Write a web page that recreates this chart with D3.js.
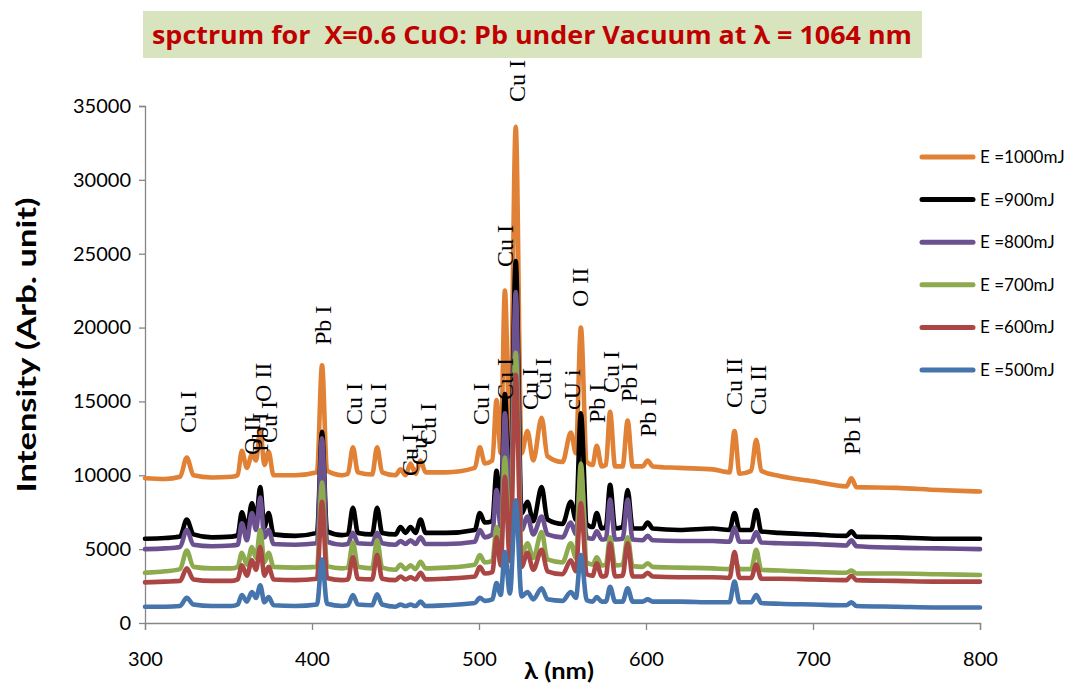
<!DOCTYPE html>
<html><head><meta charset="utf-8">
<script src="https://cdn.jsdelivr.net/npm/d3@7"></script>
<style>body{margin:0;background:#fff} svg{display:block}</style>
</head><body><svg id="c" width="1076" height="686"></svg>
<script>
// ---------- DATA ----------
const wavelength = [300,312,321,325,329,340,352,355.5,358,361,364,366.5,369,371.5,374,377,390,403,406,409,418,421.5,424.5,427.5,436,439,442,450,453,456,459,462,465,468,480,497.5,500.5,503.5,508,510.5,513,515.5,518.5,522,525.5,529,532.5,537.5,541,550,555,558,561,564.5,568,570.5,573.5,576,578.5,581.5,586,589,592,598,601,604,620,640,650,653,656,663,666,669,680,700,720,723,726,750,775,800];

const e1000 = [9800,9750,9900,11200,10000,9850,9900,10000,11650,10500,11400,11000,13100,10700,11600,10000,10000,10200,17450,10300,10000,10100,11900,10200,10050,11900,10200,10000,10400,10000,10800,10100,11000,10200,10200,10500,11900,10800,11000,15100,11500,22500,12000,33600,11500,13000,11000,13900,11300,10900,12900,11500,20000,10900,10700,12000,10600,10700,14300,10600,10600,13700,10600,10600,11000,10600,10500,10400,10200,13000,10100,10300,12400,10300,9950,9600,9250,9800,9200,9150,9000,8900];
const e900 = [5700,5750,5850,7000,6000,5800,5850,5950,7500,6400,8100,7000,9200,6500,7450,6000,5900,6100,12950,6200,5950,6000,7800,6100,6000,7800,6100,6000,6500,6100,6500,6100,7000,6100,6100,6300,7450,6800,6900,10300,7500,15500,8000,24500,7400,8200,6900,9200,7000,6700,8200,7000,14200,6700,6500,7450,6400,6500,9350,6400,6500,9000,6400,6400,6800,6400,6300,6400,6300,7450,6300,6300,7650,6200,6100,6000,5900,6200,5850,5800,5700,5700];
const e800 = [5000,5050,5150,6300,5300,5200,5250,5300,6750,5600,7450,6300,8500,5800,6300,5350,5300,5400,12500,5500,5300,5350,6100,5400,5350,6100,5400,5300,5550,5350,5600,5350,5800,5350,5350,5500,6300,5800,6000,9000,6500,14200,7000,22400,6300,7200,6000,7200,6000,5800,6800,6000,10000,5800,5700,6200,5650,5700,8350,5650,5700,8350,5650,5600,5900,5600,5550,5550,5500,6450,5500,5500,6150,5450,5400,5350,5250,5600,5200,5100,5050,5000];
const e700 = [3400,3500,3650,4900,3800,3700,3700,3800,4750,3950,5150,4400,6300,4100,4750,3800,3750,3800,9500,3850,3700,3750,5450,3800,3700,5600,3750,3600,3950,3650,3900,3650,4150,3700,3750,3950,4600,4100,4200,6500,4700,11200,5000,18300,4600,5400,4400,6150,4300,4100,5400,4400,10800,4100,3950,4450,3900,3950,5800,3900,3950,5800,3850,3800,4050,3800,3750,3700,3650,4300,3650,3650,4950,3600,3550,3450,3400,3550,3350,3350,3300,3250];
const e600 = [2750,2800,2850,3700,2950,2850,2850,2950,3900,3200,4250,3600,5150,3200,3800,2950,2900,3000,8200,3050,2900,2950,4450,3000,2950,4600,3000,2900,3150,2950,3100,2950,3400,2950,3000,3150,3800,3350,3450,5800,3900,9900,4200,16800,3800,4750,3600,4950,3500,3300,4250,3500,8100,3300,3200,4050,3150,3200,5400,3150,3200,5400,3150,3150,3400,3150,3100,3100,3050,4800,3050,3050,3950,3000,3000,2950,2900,3200,2900,2850,2800,2800];
const e500 = [1100,1100,1150,1700,1250,1150,1150,1250,1900,1450,2100,1700,2550,1400,1750,1200,1150,1250,4300,1300,1150,1200,1900,1250,1200,1950,1250,1100,1250,1150,1250,1150,1450,1150,1200,1350,1700,1500,1600,2700,1900,4800,2000,8300,1800,2100,1600,2350,1600,1500,2100,1700,4600,1550,1450,1750,1450,1450,2450,1450,1450,2350,1450,1450,1600,1450,1450,1400,1400,2800,1400,1400,1900,1350,1300,1250,1200,1400,1150,1100,1050,1050];

const seriesNames = ["E =1000mJ","E =900mJ","E =800mJ","E =700mJ","E =600mJ","E =500mJ"];
const seriesColors = ["#E08136","#000000","#6C5190","#8DAA4E","#AA4644","#4674AC"];
const seriesValues = [e1000,e900,e800,e700,e600,e500];

const xTicks = [300,400,500,600,700,800];
const yTicks = [0,5000,10000,15000,20000,25000,30000,35000];

const labelText = ["Cu I","O II","Pb I","Cu I","O II","Pb I","Cu I","Cu I","Cu I","Cu I","Cu I","Cu I","Cu I","Cu I","Cu I","Cu I","Cu I","cU i","O II","Pb I","Cu I","Pb I","Pb I","Cu II","Cu II","Pb I"];
const labelNm   = [325.7,364.1,368.9,374.3,370.7,406.6,425.1,439.5,458.7,464.1,469.5,501.2,515.6,515.6,522.8,530.5,538.3,555.7,560.5,570.7,579.0,589.8,601.2,652.7,667.1,723.4];
const labelVal  = [12860,11370,11580,12190,14960,18820,13400,13400,9950,10700,12050,13400,15100,24100,35270,14420,15100,14420,21390,13540,15570,14960,12590,14560,14080,11370];

const titleText = "spctrum for  X=0.6 CuO: Pb under Vacuum at λ = 1064 nm";

// ---------- CHART ----------
const svg = d3.select("#c");
const x = d3.scaleLinear().domain([300,800]).range([145,980]);
const y = d3.scaleLinear().domain([0,35000]).range([623,106]);

// title box
svg.append("rect").attr("x",143).attr("y",11).attr("width",779).attr("height",47).attr("fill","#D7E4BD");
svg.append("text").attr("x",532).attr("y",44).attr("text-anchor","middle")
  .style("white-space","pre")
  .attr("font-family","Open Sans, sans-serif").attr("font-weight","bold").attr("font-size",25)
  .attr("fill","#C00000").attr("textLength",760).attr("lengthAdjust","spacingAndGlyphs")
  .text(titleText);

// axes
const gx = svg.append("g").attr("transform","translate(0,623)")
  .call(d3.axisBottom(x).tickValues(xTicks).tickSize(7).tickPadding(22).tickFormat(d3.format("d")));
const gy = svg.append("g").attr("transform","translate(145,0)")
  .call(d3.axisLeft(y).tickValues(yTicks).tickSize(6).tickPadding(8).tickFormat(d3.format("d")));
[gx,gy].forEach(g=>{
  g.select(".domain").attr("stroke","#868686").attr("stroke-width",1.3);
  g.selectAll(".tick line").attr("stroke","#868686").attr("stroke-width",1.3);
  g.selectAll(".tick text").attr("font-family","Lato, sans-serif").attr("font-size",20).attr("fill","#000");
});
gx.selectAll(".tick text").attr("dy","0.35em").attr("y",36);
gy.select(".domain").attr("d","M-6,106.5H0.5V623.5");

// series lines (draw 1000 first, 500 last)
const line = d3.line().curve(d3.curveMonotoneX);
seriesValues.forEach((vals,i)=>{
  svg.append("path")
    .attr("d", line(wavelength.map((w,j)=>[x(w), y(vals[j])])))
    .attr("fill","none").attr("stroke",seriesColors[i]).attr("stroke-width",4.6)
    .attr("stroke-linejoin","round").attr("stroke-linecap","round");
});

// peak labels
labelText.forEach((t,i)=>{
  svg.append("text")
    .attr("transform",`translate(${x(labelNm[i])},${y(labelVal[i])}) rotate(-90)`)
    .attr("dy","0.34em")
    .attr("font-family","Liberation Serif, Times New Roman, serif").attr("font-size",24)
    .attr("fill","#000").text(t);
});

// axis titles
svg.append("text").attr("x",559).attr("y",679).attr("text-anchor","middle")
  .attr("font-family","Lato, sans-serif").attr("font-weight","bold").attr("font-size",22)
  .attr("textLength",70).attr("lengthAdjust","spacingAndGlyphs").text("λ (nm)");
svg.append("text").attr("transform","translate(36,345) rotate(-90)").attr("text-anchor","middle")
  .attr("font-family","Lato, sans-serif").attr("font-weight","bold").attr("font-size",27)
  .attr("textLength",295).attr("lengthAdjust","spacingAndGlyphs").text("Intensity (Arb. unit)");

// legend
const legendY = d3.scalePoint().domain(seriesNames).range([157,370]);
seriesNames.forEach((n,i)=>{
  const yy = legendY(n);
  svg.append("line").attr("x1",922).attr("x2",973).attr("y1",yy).attr("y2",yy)
    .attr("stroke",seriesColors[i]).attr("stroke-width",5).attr("stroke-linecap","round");
  svg.append("text").attr("x",980).attr("y",yy).attr("dy","0.35em")
    .attr("font-family","Lato, sans-serif").attr("font-size",17).attr("fill","#000").text(n);
});
</script></body></html>
